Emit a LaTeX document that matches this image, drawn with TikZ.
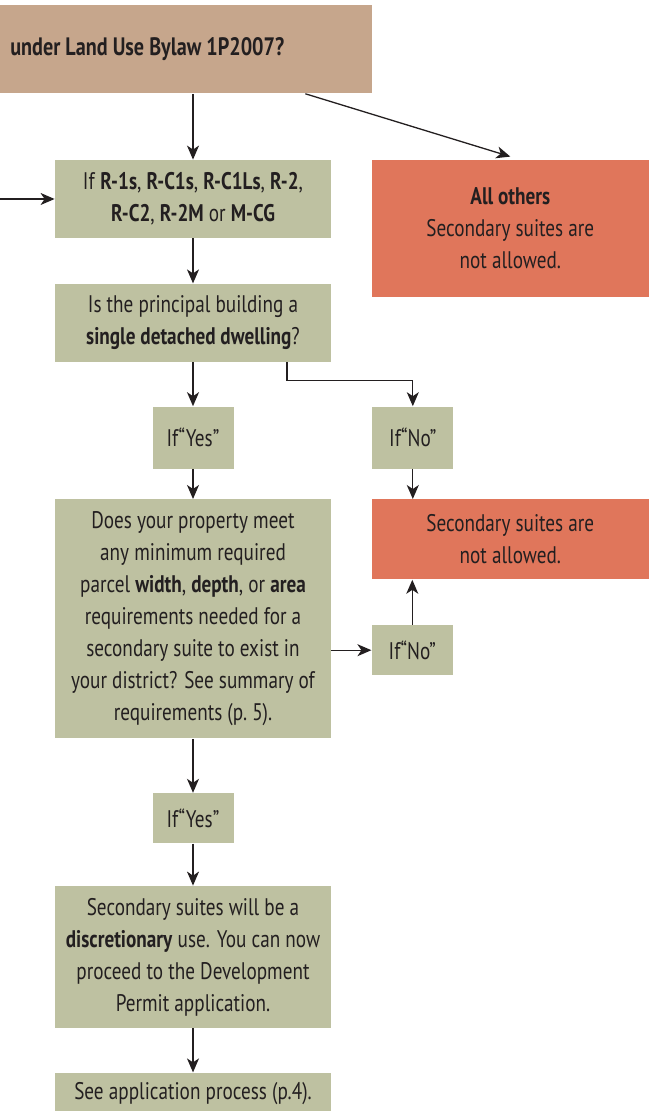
\documentclass[tikz,border=0pt]{standalone}
\usepackage{fontspec}
\setmainfont{PT Sans}[FakeStretch=0.8]
\usepackage{tikz}
\usetikzlibrary{positioning, arrows.meta}
\usepackage{xcolor}
\definecolor{tanfill}{HTML}{C6A68C}
\definecolor{sagefill}{HTML}{BEC1A1}
\definecolor{redfill}{HTML}{E0765B}
\definecolor{inkgray}{HTML}{231F20}

\begin{document}
\begin{tikzpicture}[
    box/.style={fill=sagefill, inner sep=0pt, minimum width=138pt, align=center, text=inkgray, font=\fontsize{12pt}{16pt}\selectfont},
    smallbox/.style={box, minimum width=40.5pt},
    nobox/.style={fill=redfill, inner sep=0pt, minimum width=138.5pt, align=center, text=inkgray, font=\fontsize{12pt}{16pt}\selectfont},
    topbox/.style={fill=tanfill, inner xsep=5pt, inner ysep=0pt, minimum height=44pt, text=inkgray, font=\fontsize{12.6pt}{16pt}\selectfont},
    arrow/.style={-{Stealth[length=7pt, width=6pt, inset=2pt]}, line width=0.65pt, draw=inkgray}
]
    \useasboundingbox (0,0) rectangle (326pt,-555.5pt);

    % Question
    \node[topbox, anchor=north west] (top) at (0pt,-2.5pt) {\makebox[176pt][l]{\textbf{under Land Use Bylaw 1P2007?}}};

    % Districts
    \node[box, minimum height=39pt] (rules) at (96.5pt,-99.5pt) {If \textbf{R-1s}, \textbf{R-C1s}, \textbf{R-C1Ls}, \textbf{R-2},\\\textbf{R-C2}, \textbf{R-2M} or \textbf{M-CG}};
    \coordinate (entry) at (0pt,-99.5pt);

    % All others
    \node[nobox, minimum height=68.5pt, right=20pt of rules.north east, anchor=north west] (others) {\textbf{All others}\\Secondary suites are\\not allowed.};

    % Dwelling type
    \node[box, minimum height=39pt, below=22.5pt of rules] (dwelling) {Is the principal building a\\\textbf{single detached dwelling}?};

    \node[smallbox, minimum height=31pt, below=22pt of dwelling] (yesA) {If“Yes”};
    \node[smallbox, minimum height=31pt, right=69pt of yesA] (noA) {If“No”};

    % Parcel size
    \node[box, minimum height=119.5pt, below=15pt of yesA] (parcel) {Does your property meet\\any minimum required\\parcel \textbf{width}, \textbf{depth}, or \textbf{area}\\requirements needed for a\\secondary suite to exist in\\your district? See summary of\\requirements (p.~5).};

    \node[nobox, minimum height=40pt, right=20pt of parcel.north east, anchor=north west] (deny) {Secondary suites are\\not allowed.};
    \node[smallbox, minimum height=25pt, below=22.5pt of deny.south west, anchor=north west] (noB) {If“No”};

    \node[smallbox, minimum height=25pt, below=27pt of parcel] (yesB) {If“Yes”};

    % Discretionary use
    \node[box, minimum height=71pt, below=21pt of yesB] (suite) {Secondary suites will be a\\\textbf{discretionary} use. You can now\\proceed to the Development\\Permit application.};

    \node[box, minimum height=21pt, below=22pt of suite] (process) {See application process (p.4).};

    % Arrows
    \draw[arrow] (top.south -| rules) -- (rules);
    \draw[arrow] ([xshift=59.5pt]top.south) -- ([yshift=1.5pt]others.north);
    \draw[arrow] (entry) -- (rules);
    \draw[arrow] (rules) -- (dwelling);
    \draw[arrow] (dwelling) -- (yesA);
    \draw[arrow] ([xshift=47pt]dwelling.south) -- ++(0,-9pt) -| (noA.north);
    \draw[arrow] (noA) -- (deny.north -| noA);
    \draw[arrow] (yesA) -- (parcel);
    \draw[arrow] (parcel.east |- noB) -- (noB);
    \draw[arrow] (noB) -- (deny.south -| noB);
    \draw[arrow] (parcel) -- (yesB);
    \draw[arrow] (yesB) -- (suite);
    \draw[arrow] (suite) -- (process);

\end{tikzpicture}
\end{document}
